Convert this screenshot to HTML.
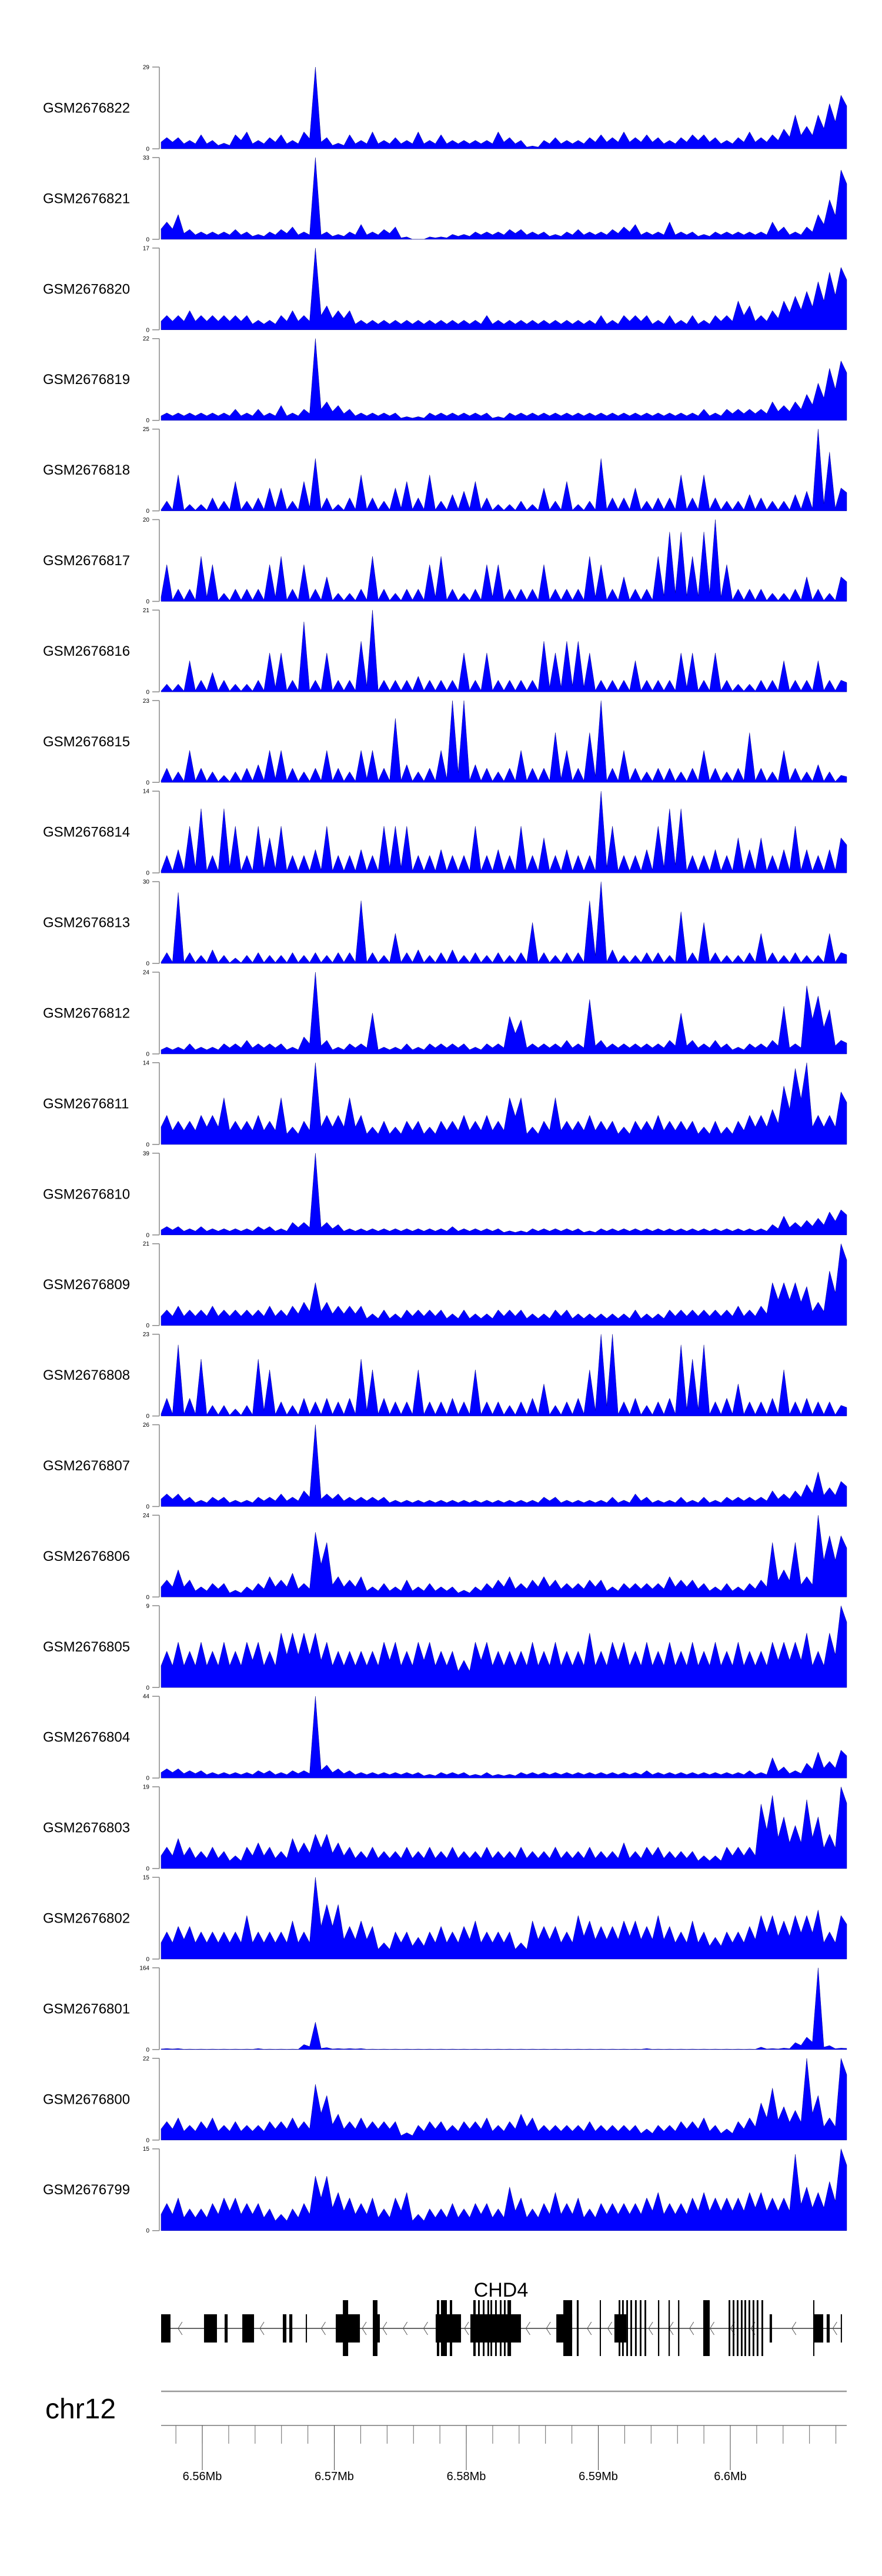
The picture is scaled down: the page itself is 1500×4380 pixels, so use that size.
<!DOCTYPE html>
<html><head><meta charset="utf-8"><title>CHD4 tracks</title>
<style>
html,body{margin:0;padding:0;background:#fff;}
svg{display:block;font-family:"Liberation Sans",Arial,sans-serif;}
</style></head>
<body>
<svg id="chart" width="1500" height="4380" viewBox="0 0 1500 4380" xmlns="http://www.w3.org/2000/svg">
<g id="tracks"></g>
<g id="gene"></g>
<g id="axis"></g>
</svg>
<script>
const sampleNames = ["GSM2676822","GSM2676821","GSM2676820","GSM2676819","GSM2676818","GSM2676817","GSM2676816","GSM2676815","GSM2676814","GSM2676813","GSM2676812","GSM2676811","GSM2676810","GSM2676809","GSM2676808","GSM2676807","GSM2676806","GSM2676805","GSM2676804","GSM2676803","GSM2676802","GSM2676801","GSM2676800","GSM2676799"];
const yMaxLabels = [29,33,17,22,25,20,21,23,14,30,24,14,39,21,23,26,24,9,44,19,15,164,22,15];
const sparseTracks = [4,5,6,7,8,9,14];
const s0 = [4,4,3,5,3,2,5,6,3,4,5,3,6,29,4,2,5,3,6,3,4,3,6,3,5,3,3,3,3,6,4,3,1,3,4,3,3,4,5,4,6,4,5,4,3,4,5,5,4,3,4,6,4,5,7,12,8,12,16,19];
const s1 = [7,10,4,3,3,3,4,3,2,3,4,5,3,33,3,2,3,6,3,4,5,1,0,1,1,2,2,3,3,3,4,4,3,3,2,3,4,3,3,4,5,6,3,3,7,3,3,2,3,3,3,3,3,7,5,3,5,10,16,28];
const s2 = [3,3,4,3,3,3,3,3,2,2,3,4,3,17,5,4,4,2,2,2,2,2,2,2,2,2,2,2,3,2,2,2,2,2,2,2,2,2,3,2,3,3,3,2,3,2,3,2,3,3,6,5,3,4,6,7,8,10,12,13];
const s3 = [2,2,2,2,2,2,3,2,3,2,4,2,3,22,5,4,3,2,2,2,2,1,1,2,2,2,2,2,2,1,2,2,2,2,2,2,2,2,2,2,2,2,2,2,2,2,2,3,2,3,3,3,3,5,4,5,7,10,14,16];
const s4 = [3,11,2,2,4,3,9,3,4,7,7,3,9,16,4,2,4,11,4,3,7,9,4,11,3,5,6,9,4,2,2,3,2,7,3,9,2,3,16,4,4,7,3,4,4,11,4,11,4,3,3,5,4,3,3,5,6,25,18,7];
const s5 = [9,3,3,11,9,2,3,3,3,9,11,3,9,3,6,2,2,3,11,3,2,3,3,9,11,3,2,3,9,9,3,3,3,9,3,3,3,11,9,3,6,3,3,11,17,17,11,17,20,9,3,3,3,2,2,3,6,3,2,6];
const s6 = [2,2,8,3,5,3,2,2,3,10,10,3,18,3,10,3,3,13,21,3,3,3,4,3,3,3,10,3,10,3,3,3,3,13,10,13,13,10,3,3,3,8,3,3,3,10,10,3,10,3,2,2,3,3,8,3,3,8,3,3];
const s7 = [4,3,9,4,3,2,3,4,5,9,9,4,3,4,9,4,3,9,9,4,18,5,3,4,9,23,23,5,4,3,4,9,4,4,14,9,4,14,23,4,9,4,3,4,4,3,4,9,4,3,4,14,4,3,9,4,3,5,3,2];
const s8 = [3,4,8,11,3,11,8,3,8,6,8,3,3,4,8,3,3,4,3,8,8,8,3,3,4,3,3,8,3,4,3,8,3,6,3,4,3,3,14,8,3,3,4,8,11,11,3,3,4,3,6,4,6,3,4,8,4,3,4,6];
const s9 = [4,26,4,3,5,3,2,3,4,3,3,4,3,4,3,4,4,23,4,3,11,4,5,3,4,5,3,4,3,4,3,4,15,4,3,4,4,23,30,5,3,3,4,4,3,19,4,15,4,3,3,4,11,4,3,4,3,3,11,4];
const s10 = [2,2,3,2,2,3,3,4,3,3,3,2,5,24,4,2,3,3,12,2,2,3,2,3,3,3,3,2,3,3,11,10,3,3,3,4,3,16,4,3,3,3,3,3,4,12,4,3,4,3,2,3,3,4,14,3,20,17,13,4];
const s11 = [5,4,4,5,5,8,4,4,5,4,8,3,4,14,5,5,8,5,3,4,3,4,4,3,4,4,5,4,5,4,8,8,3,4,8,4,4,5,4,4,3,4,4,5,4,4,4,3,4,3,4,5,5,6,10,13,14,5,5,9];
const s12 = [4,4,3,4,3,3,3,3,4,4,3,6,6,39,6,5,3,3,3,3,3,3,3,3,3,4,3,3,3,3,2,2,3,3,3,3,3,2,3,3,3,3,3,3,3,3,3,3,3,3,3,3,3,5,9,6,7,8,11,12];
const s13 = [4,5,4,4,5,4,4,4,4,5,4,5,6,11,6,5,5,5,3,4,3,4,4,4,4,3,4,3,3,4,4,4,3,3,4,4,3,3,3,3,3,4,3,3,4,4,4,4,4,4,5,4,5,11,11,11,10,6,14,21];
const s14 = [5,20,5,16,3,3,2,3,16,13,4,3,5,4,5,4,5,16,13,5,4,4,13,4,4,5,4,13,4,4,3,4,5,9,3,4,5,13,23,23,4,5,3,4,5,20,16,20,4,5,9,4,4,5,13,4,5,4,4,3];
const s15 = [4,4,3,2,3,3,2,2,3,3,4,3,5,26,4,4,3,3,3,3,2,2,2,2,2,2,2,2,2,2,2,2,2,3,3,2,2,2,2,3,2,4,3,2,2,3,2,3,2,3,3,3,3,5,4,5,7,11,6,8];
const s16 = [5,8,5,3,4,4,2,3,4,6,5,7,4,19,16,6,5,6,3,4,3,5,3,4,3,3,2,3,4,5,6,4,5,6,5,4,4,5,5,3,4,4,4,4,6,5,5,4,3,4,3,4,5,16,8,16,6,24,18,18];
const s17 = [4,5,4,5,4,5,4,5,5,4,6,6,6,6,5,4,4,4,4,5,5,4,5,5,4,4,3,5,5,4,4,4,5,4,5,4,4,6,4,5,5,4,5,4,5,4,5,4,5,4,5,4,4,5,5,5,6,4,6,9];
const s18 = [5,5,4,4,3,3,3,3,4,4,3,4,4,44,7,5,4,3,3,3,3,3,3,2,3,3,3,2,3,2,2,3,3,3,3,3,3,3,3,3,3,3,4,3,3,3,3,3,3,3,3,4,3,11,6,4,8,14,9,15];
const s19 = [5,7,5,4,5,4,3,5,6,5,4,7,6,8,8,6,5,4,5,4,4,5,4,5,4,5,4,4,5,4,4,5,4,4,5,4,4,5,4,4,6,4,5,5,4,4,4,3,3,5,5,5,15,17,12,10,16,12,8,19];
const s20 = [5,6,6,5,5,5,5,8,5,5,5,7,5,15,10,10,6,7,6,3,5,5,4,5,6,5,6,7,5,5,5,3,7,6,6,5,8,7,6,6,7,7,6,8,6,5,7,5,4,5,5,6,8,8,7,8,8,9,5,8];
const s21 = [2,2,1,1,1,1,1,1,2,1,1,1,10,55,4,2,2,2,1,1,1,1,1,1,1,1,1,1,1,1,1,1,1,1,1,1,1,1,1,1,1,1,2,1,1,1,1,1,1,1,1,1,5,2,3,14,25,164,8,3];
const s22 = [5,6,4,5,6,4,5,4,4,5,5,6,5,15,12,7,5,6,5,5,5,2,4,5,5,4,5,5,6,4,5,7,6,4,4,4,4,5,4,4,4,4,3,4,4,5,5,6,4,3,5,6,10,14,9,8,22,12,6,22];
const s23 = [5,6,4,4,5,6,6,5,5,4,3,4,5,10,10,7,6,5,6,4,6,7,3,4,4,5,4,5,5,4,8,6,4,5,7,5,6,4,5,5,5,5,6,7,5,5,6,7,6,6,6,7,7,6,6,14,8,7,9,15];
const seriesValues = [s0,s1,s2,s3,s4,s5,s6,s7,s8,s9,s10,s11,s12,s13,s14,s15,s16,s17,s18,s19,s20,s21,s22,s23];

const utrStarts = [6556.88,6560.13,6561.69,6563.03,6566.10,6566.59,6567.84,6570.11,6572.92,6577.68,6580.31,6586.82,6591.22,6602.98,6606.28,6607.30,6608.37];
const utrEnds   = [6557.59,6561.11,6561.92,6563.92,6566.37,6566.82,6567.93,6571.94,6573.45,6579.60,6584.14,6588.02,6592.12,6603.16,6607.04,6607.53,6608.46];
const cdsStarts = [6570.65,6572.92,6577.77,6578.08,6578.75,6580.53,6580.89,6581.25,6581.60,6581.83,6582.18,6582.54,6582.85,6583.12,6587.35,6588.37,6590.11,6591.54,6591.80,6592.12,6592.43,6592.78,6593.14,6593.50,6594.52,6595.32,6596.04,6597.95,6599.87,6600.18,6600.49,6600.80,6601.07,6601.38,6601.69,6602.00,6602.36,6606.28];
const cdsEnds   = [6571.05,6573.27,6577.95,6578.53,6578.93,6580.71,6581.02,6581.38,6581.73,6581.96,6582.31,6582.67,6582.98,6583.39,6588.02,6588.51,6590.20,6591.67,6591.93,6592.25,6592.56,6592.91,6593.27,6593.63,6594.62,6595.42,6596.14,6598.44,6600.00,6600.31,6600.62,6600.93,6601.20,6601.51,6601.82,6602.13,6602.49,6606.37];
const majorTickKb = [6560,6570,6580,6590,6600];
const majorTickLabels = ["6.56Mb","6.57Mb","6.58Mb","6.59Mb","6.6Mb"];

const NS = "http://www.w3.org/2000/svg";
const X0 = 274, X1 = 1440, AXX = 271;
const KB0 = 6556.88, KB1 = 6608.82;
const TOP0 = 114, STEP = 153.9, H = 139;
function xKb(kb){ return X0 + (kb - KB0) / (KB1 - KB0) * (X1 - X0); }
function mk(tag, attrs, parent){ const e = document.createElementNS(NS, tag); for (const k in attrs) e.setAttribute(k, attrs[k]); parent.appendChild(e); return e; }

const tracks = document.getElementById('tracks');
seriesValues.forEach((vals, t) => {
  const top = TOP0 + t * STEP, bot = top + H, max = yMaxLabels[t];
  const yv = v => bot - Math.min(v, max) / max * H;
  const g = mk('g', {}, tracks);
  
  
  const lab = mk('text', {x: 73, y: (top + bot) / 2 + 8, 'font-size': 24, fill: '#000'}, g);
  lab.textContent = sampleNames[t];
  
  
  const ax = mk('path', {d: `M${AXX},${top}V${bot}M259,${top}H${AXX}M259,${bot}H${AXX}`, stroke: '#888', 'stroke-width': 1.5, fill: 'none'}, g);
  
  
  const tmax = mk('text', {x: 254, y: top + 3.5, 'font-size': 10, 'text-anchor': 'end'}, g);
  tmax.textContent = String(max);
  
  
  const tz = mk('text', {x: 254, y: bot + 3.5, 'font-size': 10, 'text-anchor': 'end'}, g);
  tz.textContent = '0';
  
  
  const n = vals.length, bw = (X1 - X0) / n;
  const f = sparseTracks.includes(t) ? 0.12 : 0.6;
  let d = `M${X0},${bot}L${X0},${yv(vals[0] * f)}`;
  for (let i = 0; i < n; i++) {
    const cx = X0 + (i + 0.5) * bw;
    d += `L${cx.toFixed(1)},${yv(vals[i]).toFixed(1)}`;
    const nx = i < n - 1 ? Math.min(vals[i], vals[i + 1]) * f : vals[i] * 0.8;
    d += `L${(X0 + (i + 1) * bw).toFixed(1)},${yv(nx).toFixed(1)}`;
  }
  d += `L${X1},${bot}Z`;
  const area = mk('path', {d: d, fill: '#0000ff', stroke: '#00008b', 'stroke-width': 0.5}, g);
  
  
});

const gene = document.getElementById('gene');
const GY = 3959;
const gl = mk('line', {x1: X0, x2: xKb(6608.46), y1: GY, y2: GY, stroke: '#333', 'stroke-width': 1.5}, gene);


for (let kb = 6558.3; kb < 6608; kb += 1.55) {
  const inside = utrStarts.some((s, i) => kb > s - 0.3 && kb < utrEnds[i] + 0.3);
  if (inside) continue;
  const x = xKb(kb);
  const c = mk('path', {d: `M${x + 4},${GY - 11}L${x - 3},${GY}L${x + 4},${GY + 11}`, stroke: '#555', fill: 'none', 'stroke-width': 1}, gene);
  
  
}
utrStarts.forEach((s, i) => {
  const r = mk('rect', {x: xKb(s), y: 3935, width: Math.max(1.5, xKb(utrEnds[i]) - xKb(s)), height: 48, fill: '#000'}, gene);
  
  
});
cdsStarts.forEach((s, i) => {
  const r = mk('rect', {x: xKb(s), y: 3911, width: Math.max(1.5, xKb(cdsEnds[i]) - xKb(s)), height: 95, fill: '#000'}, gene);
  
  
});
const gn = mk('text', {x: 852, y: 3905, 'font-size': 34, 'text-anchor': 'middle'}, gene);
gn.textContent = 'CHD4';



const axis = document.getElementById('axis');
const cl = mk('line', {x1: X0, x2: X1, y1: 4066, y2: 4066, stroke: '#999', 'stroke-width': 2.5}, axis);


const chr = mk('text', {x: 77, y: 4112, 'font-size': 48}, axis);
chr.textContent = 'chr12';


const rl = mk('line', {x1: X0, x2: X1, y1: 4124, y2: 4124, stroke: '#999', 'stroke-width': 2}, axis);


for (let kb = 6558; kb <= 6608; kb += 2) {
  const x = xKb(kb);
  const tk = mk('line', {x1: x, x2: x, y1: 4124, y2: 4155, stroke: '#666', 'stroke-width': 1}, axis);
  
  
}
majorTickKb.forEach((kb, i) => {
  const x = xKb(kb);
  const tk = mk('line', {x1: x, x2: x, y1: 4124, y2: 4200, stroke: '#444', 'stroke-width': 1}, axis);
  
  
  const tl = mk('text', {x: x, y: 4217, 'font-size': 20, 'text-anchor': 'middle'}, axis);
  tl.textContent = majorTickLabels[i];
  
  
});
</script>
</body></html>
